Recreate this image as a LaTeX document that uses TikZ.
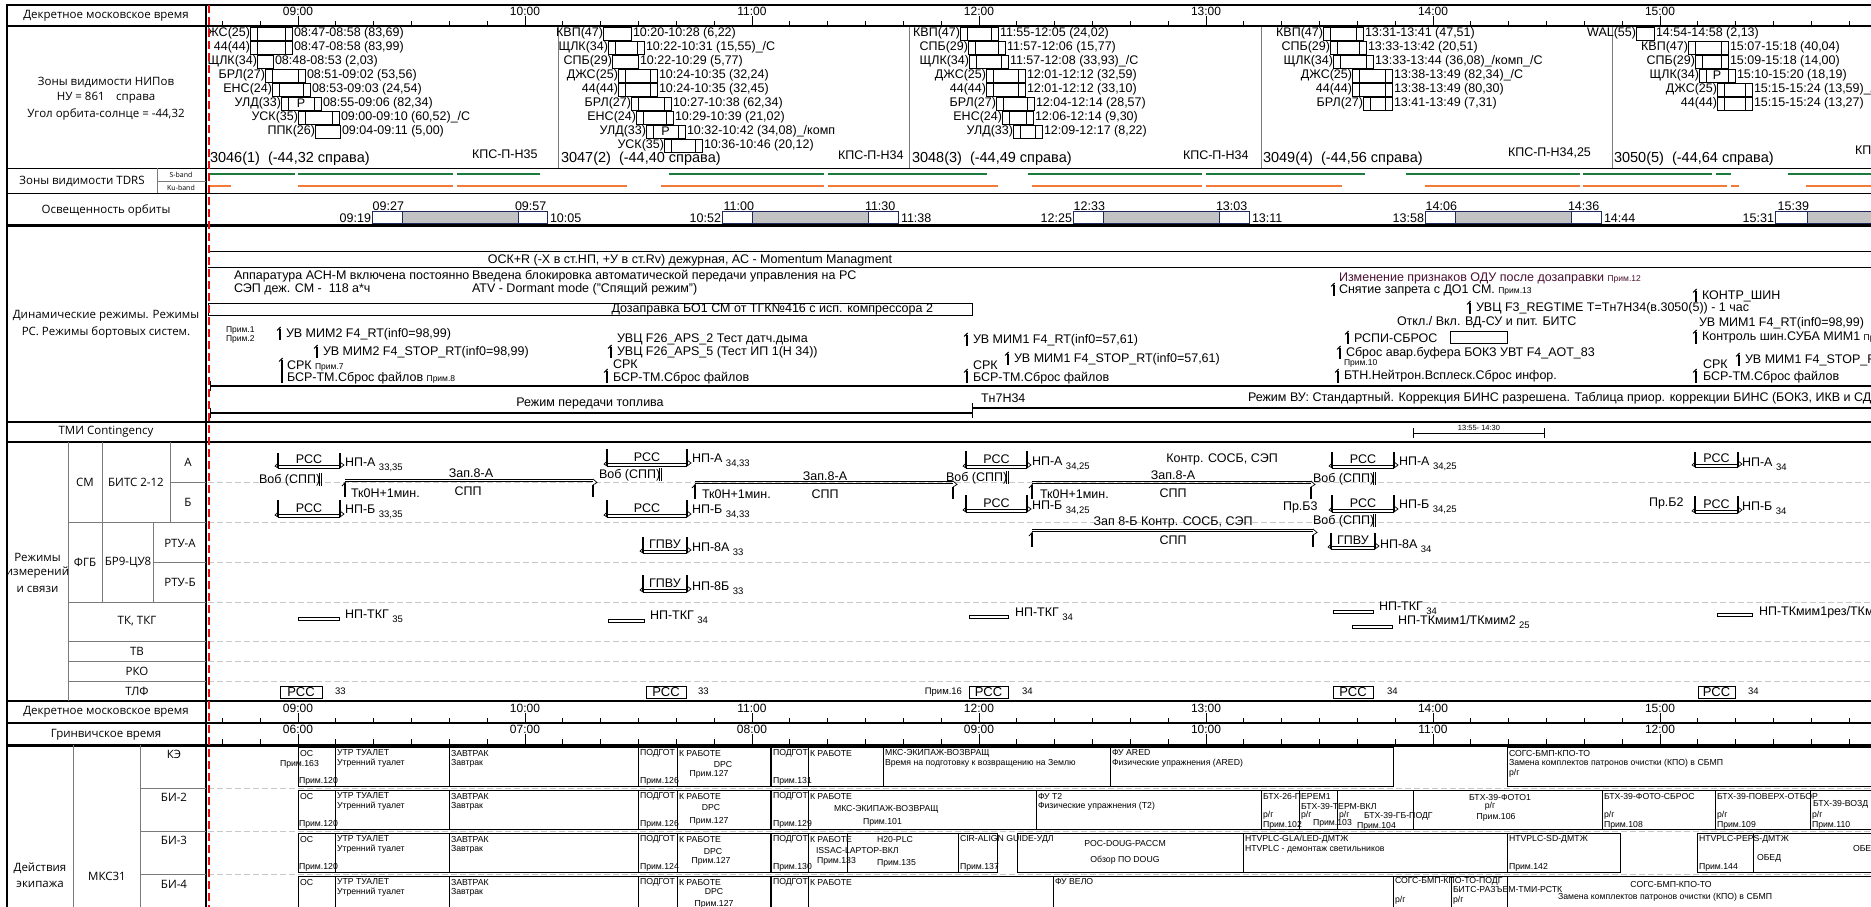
\documentclass[tikz,border=0pt]{standalone}
\usepackage{fontspec}
\setmainfont{Liberation Sans}
\newfontfamily\labfont{Open Sans}
\usetikzlibrary{calc}

\definecolor{sband}{HTML}{1B7A3E}
\definecolor{kuband}{HTML}{F27B3A}
\definecolor{shadowgray}{HTML}{C3C3C3}
\definecolor{navy}{HTML}{1F2A5C}
\definecolor{gridgray}{HTML}{7A7A7A}
\definecolor{dashgray}{HTML}{C8C8C8}
\definecolor{redline}{HTML}{E01010}
\definecolor{darkmaroon}{HTML}{4A1030}

\newcommand\fs[1]{\fontsize{#1}{#1}\selectfont}

% ground station pass: three-part box
\newcommand\nipT[5]{%
  \node[tt,anchor=east] at (#2,#1) {#4};
  \draw[line width=0.8pt] (#2,#1-6.5) rectangle (#3,#1+6.5)
     (#2+7,#1-6.5) -- (#2+7,#1+6.5) (#3-7,#1-6.5) -- (#3-7,#1+6.5);
  \node[tt,anchor=west] at (#3+2,#1) {#5};}
% single box
\newcommand\nipS[5]{%
  \node[tt,anchor=east] at (#2,#1) {#4};
  \draw[line width=0.8pt] (#2,#1-6.5) rectangle (#3,#1+6.5);
  \node[tt,anchor=west] at (#3+2,#1) {#5};}
% box with the "Р" mark
\newcommand\nipP[5]{%
  \nipT{#1}{#2}{#3}{#4}{#5}
  \node[tt] at ({(#2+#3)/2},#1) {Р};}

% shadow interval of the orbit
\newcommand\shd[8]{%
  \fill[shadowgray] (#2,211) rectangle (#3,223);
  \draw[navy,line width=0.9pt] (#1,211) rectangle (#4,223) (#2,211) -- (#2,223) (#3,211) -- (#3,223);
  \node[tt,anchor=east] at (#1-1,218.5) {#5};
  \node[tt,anchor=east] at (#2+2,206.5) {#6};
  \node[tt,anchor=west] at (#3-3,206.5) {#7};
  \node[tt,anchor=west] at (#4+3,218.5) {#8};}

% command flag
\newcommand\flg[3]{%
  \draw[line width=1.8pt] (#1,#2+1.5) -- (#1,#3);
  \draw[line width=1pt] (#1+0.6,#2) -- (#1-3,#2+3.5);}

% communication session bracket
\newcommand\rss[5]{%
  \draw[line width=1.6pt] (#1,#3) -- (#1,#4) (#2,#3) -- (#2,#4);
  \draw[line width=0.7pt] (#1,#4-5) -- (#1-3,#4-2) -- (#1,#4);
  \draw[line width=0.7pt] (#2,#4-6) -- (#2+4,#4-3) -- (#2,#4);
  \draw[line width=0.7pt] (#1,#4-2.5) -- (#2,#4-2.5) (#1,#4) -- (#2,#4);
  \node[font=\fs{12.5}] at ({(#1+#2)/2},#4-9) {#5};}

\newcommand\np[4]{\node[tt,anchor=west] at (#1,#2) {#3 \raisebox{-4.5pt}{\fs{9.5}#4}};}

\newcommand\vob[3]{%
  \node[tt,anchor=west] at (#1,#2) {Воб (СПП)};
  \draw[line width=0.6pt] (#3,#2-7) -- (#3,#2+6) (#3+2.2,#2-7) -- (#3+2.2,#2+6);}

% recording interval
\newcommand\zap[4]{%
  \draw[line width=0.8pt] (#1,#3) -- (#2,#3) (#1,#3+2.5) -- (#2,#3+2.5);
  \draw[line width=1.8pt] (#1,#3+4) -- (#1,#3+#4);
  \draw[line width=0.8pt] (#1+0.6,#3+3) -- (#1-3,#3+7);
  \draw[line width=0.7pt] (#2,#3) -- (#2+4,#3+3.5) -- (#2,#3+6);
  \draw[line width=1.8pt] (#2,#3+6) -- (#2,#3+#4);}

\newcommand\tkg[3]{\draw[line width=0.7pt] (#1,#3-1.6) rectangle (#2,#3+1.6);}

\newcommand\tlf[4]{%
  \draw[line width=1pt] (#1,686) rectangle (#2,698);
  \node[font=\fs{13}] at ({(#1+#2)/2},692.3) {РСС};
  \node[font=\fs{9.5},anchor=west] at (#4,691) {#3};}

% crew activity box and texts
\newcommand\cbx[4]{\draw[cb] (#1,#3) rectangle (#2,#4);}
\newcommand\ct[3]{\node[crew] at (#1,#2) {#3};}
\newcommand\cc[3]{\node[crew,anchor=center] at (#1,#2) {#3};}

\begin{document}
\begin{tikzpicture}[x=1pt,y=-1pt,
  every node/.style={inner sep=0pt,outer sep=0pt},
  tt/.style={font=\fs{12.5}},
  lab/.style={font=\labfont\fs{11.5},align=center},
  sm/.style={font=\fs{8.5}},
  crew/.style={font=\fs{8.7},anchor=west},
  cb/.style={draw=black,line width=0.9pt},
  grid/.style={draw=gridgray,line width=0.9pt},
  rowdash/.style={draw=dashgray,line width=0.8pt,dash pattern=on 6pt off 3pt},
  tick/.style={line width=0.9pt}]
\useasboundingbox (0,0) rectangle (1871,907);
\fill[white] (0,0) rectangle (1871,907);

\begin{scope}
\clip (208,0) rectangle (1871,907);

% ---------- time scales ----------
\foreach \k in {-2,...,41} {
  \pgfmathsetmacro\xx{298+\k*37.833}
  \draw[tick] (\xx,21) -- (\xx,26);
  \draw[tick] (\xx,718) -- (\xx,723);
  \draw[tick] (\xx,739) -- (\xx,745);
}
\foreach \h/\m/\g in {0/09:00/06:00,1/10:00/07:00,2/11:00/08:00,3/12:00/09:00,4/13:00/10:00,5/14:00/11:00,6/15:00/12:00} {
  \pgfmathsetmacro\xx{298+\h*227}
  \draw[tick] (\xx,16) -- (\xx,26);
  \draw[tick] (\xx,713) -- (\xx,723);
  \draw[tick] (\xx,734) -- (\xx,745);
  \node[font=\fs{12}] at (\xx,11) {\m};
  \node[font=\fs{12}] at (\xx,708) {\m};
  \node[font=\fs{12}] at (\xx,729) {\g};
}

% ---------- ground station passes ----------
\foreach \xs in {558,909,1261,1612} \draw[gridgray,line width=0.8pt] (\xs,26) -- (\xs,168);

\nipT{33.5}{250}{292}{ДЖС(25)}{08:47-08:58 (83,69)}
\nipT{47.5}{250}{292}{44(44)}{08:47-08:58 (83,99)}
\nipS{61.5}{257}{273}{ЩЛК(34)}{08:48-08:53 (2,03)}
\nipT{75.5}{265}{305}{БРЛ(27)}{08:51-09:02 (53,56)}
\nipT{89.5}{272}{310}{ЕНС(24)}{08:53-09:03 (24,54)}
\nipP{103.5}{281}{321}{УЛД(33)}{08:55-09:06 (82,34)}
\nipT{117.5}{298}{339}{УСК(35)}{09:00-09:10 (60,52)\_/С}
\nipS{131.5}{315}{340}{ППК(26)}{09:04-09:11 (5,00)}
\node[font=\fs{14.5},anchor=west] at (210,159) {3046(1)\ \ (-44,32 справа)};
\node[tt,anchor=west] at (472,154) {КПС-П-Н35};

\nipS{33.5}{603}{631}{КВП(47)}{10:20-10:28 (6,22)}
\nipT{47.5}{608}{644}{ЩЛК(34)}{10:22-10:31 (15,55)\_/С}
\nipS{61.5}{612}{638}{СПБ(29)}{10:22-10:29 (5,77)}
\nipT{75.5}{618}{657}{ДЖС(25)}{10:24-10:35 (32,24)}
\nipT{89.5}{618}{657}{44(44)}{10:24-10:35 (32,45)}
\nipT{103.5}{631}{671}{БРЛ(27)}{10:27-10:38 (62,34)}
\nipT{117.5}{636}{673}{ЕНС(24)}{10:29-10:39 (21,02)}
\nipP{131.5}{646}{685}{УЛД(33)}{10:32-10:42 (34,08)\_/комп}
\nipT{145.5}{664}{702}{УСК(35)}{10:36-10:46 (20,12)}
\node[font=\fs{14.5},anchor=west] at (561,159) {3047(2)\ \ (-44,40 справа)};
\node[tt,anchor=west] at (838,155) {КПС-П-Н34};

\nipT{33.5}{960}{998}{КВП(47)}{11:55-12:05 (24,02)}
\nipT{47.5}{968}{1005}{СПБ(29)}{11:57-12:06 (15,77)}
\nipT{61.5}{969}{1008}{ЩЛК(34)}{11:57-12:08 (33,93)\_/С}
\nipT{75.5}{986}{1025}{ДЖС(25)}{12:01-12:12 (32,59)}
\nipT{89.5}{986}{1025}{44(44)}{12:01-12:12 (33,10)}
\nipT{103.5}{996}{1034}{БРЛ(27)}{12:04-12:14 (28,57)}
\nipT{117.5}{1002}{1033}{ЕНС(24)}{12:06-12:14 (9,30)}
\nipT{131.5}{1013}{1042}{УЛД(33)}{12:09-12:17 (8,22)}
\node[font=\fs{14.5},anchor=west] at (912,159) {3048(3)\ \ (-44,49 справа)};
\node[tt,anchor=west] at (1183,155) {КПС-П-Н34};

\nipT{33.5}{1323}{1363}{КВП(47)}{13:31-13:41 (47,51)}
\nipT{47.5}{1330}{1366}{СПБ(29)}{13:33-13:42 (20,51)}
\nipT{61.5}{1333}{1373}{ЩЛК(34)}{13:33-13:44 (36,08)\_/комп\_/С}
\nipT{75.5}{1352}{1392}{ДЖС(25)}{13:38-13:49 (82,34)\_/С}
\nipT{89.5}{1352}{1392}{44(44)}{13:38-13:49 (80,30)}
\nipT{103.5}{1363}{1392}{БРЛ(27)}{13:41-13:49 (7,31)}
\node[font=\fs{14.5},anchor=west] at (1263,159) {3049(4)\ \ (-44,56 справа)};
\node[tt,anchor=west] at (1508,153) {КПС-П-Н34,25};

\nipS{33.5}{1636}{1654}{WAL(55)}{14:54-14:58 (2,13)}
\nipT{47.5}{1688}{1728}{КВП(47)}{15:07-15:18 (40,04)}
\nipT{61.5}{1695}{1728}{СПБ(29)}{15:09-15:18 (14,00)}
\nipP{75.5}{1699}{1735}{ЩЛК(34)}{15:10-15:20 (18,19)}
\nipT{89.5}{1717}{1752}{ДЖС(25)}{15:15-15:24 (13,59)\_/С}
\nipT{103.5}{1717}{1752}{44(44)}{15:15-15:24 (13,27)}
\node[font=\fs{14.5},anchor=west] at (1614,159) {3050(5)\ \ (-44,64 справа)};
\node[tt,anchor=west] at (1855,150) {КПС-П-Н34};

% ---------- TDRS coverage ----------
\foreach \a/\b in {208/295,298/453,457/540,669/824,828/987,1028/1202,1206/1365,1406/1580,1583/1712,1716/1731,1788/1871}
  \draw[sband,line width=2.2pt] (\a,174) -- (\b,174);
\foreach \a/\b in {208/231,298/453,457/627,661/824,828/998,1032/1202,1206/1342,1425/1580,1583/1727,1731/1739,1806/1871}
  \draw[kuband,line width=2.2pt] (\a,186) -- (\b,186);

% ---------- orbit illumination ----------
\shd{372}{402}{518}{547}{09:19}{09:27}{09:57}{10:05}
\shd{722}{752}{868}{898}{10:52}{11:00}{11:30}{11:38}
\shd{1073}{1103}{1219}{1249}{12:25}{12:33}{13:03}{13:11}
\shd{1425}{1455}{1571}{1601}{13:58}{14:06}{14:36}{14:44}
\shd{1775}{1807}{1900}{1930}{15:31}{15:39}{}{}

% ---------- dynamic modes ----------
\draw[line width=0.9pt] (208,251) -- (1871,251) (208,267) -- (1871,267);
\node[tt] at (690,260) {ОСК+R (-X в ст.НП, +У в ст.Rv) дежурная, АС - Momentum Managment};
\node[tt,anchor=west] at (234,276) {Аппаратура АСН-М включена постоянно};
\node[tt,anchor=west] at (234,289) {СЭП деж. СМ -\ \ 118 а*ч};
\node[tt,anchor=west] at (472,276) {Введена блокировка автоматической передачи управления на РС};
\node[tt,anchor=west] at (472,289) {ATV - Dormant mode ("Спящий режим")};
\draw[line width=0.9pt] (208,303) rectangle (972,315);
\node[tt,anchor=east] at (933,309) {Дозаправка БО1 СМ от ТГК№416 с исп. компрессора 2};

\node[tt,anchor=west,text=darkmaroon] at (1339,278) {Изменение признаков ОДУ после дозаправки {\fs{8.5}Прим.12}};
\flg{1334}{283}{296}
\node[tt,anchor=west] at (1339,290) {Снятие запрета с ДО1 СМ. {\fs{8.5}Прим.13}};
\flg{1696}{289}{302}
\node[tt,anchor=west] at (1702,296) {КОНТР\_ШИН};
\flg{1470}{301}{314}
\node[tt,anchor=west] at (1476,308) {УВЦ F3\_REGTIME T=Тн7Н34(в.3050(5)) - 1 час};
\node[tt,anchor=west] at (1397,322) {Откл./ Вкл. ВД-СУ и пит. БИТС};
\flg{1348}{331}{344}
\node[tt,anchor=west] at (1354,338) {РСПИ-СБРОС};
\draw[line width=0.9pt] (1450,331) rectangle (1507,343);
\flg{1340}{346}{359}
\node[tt,anchor=west] at (1346,353) {Сброс авар.буфера БОКЗ УВТ F4\_AOT\_83};
\node[sm,anchor=west] at (1344,363) {Прим.10};
\flg{1338}{369}{383}
\node[tt,anchor=west] at (1344,376) {БТН.Нейтрон.Всплеск.Сброс инфор.};

\node[tt,anchor=west] at (1699,323) {УВ МИМ1 F4\_RT(inf0=98,99)};
\flg{1696}{330}{344}
\node[tt,anchor=west] at (1702,337) {Контроль шин.СУБА МИМ1 {\fs{8.5}Прим.}};
\flg{1739}{353}{366}
\node[tt,anchor=west] at (1745,360) {УВ МИМ1 F4\_STOP\_RT(inf0=98,99)};
\node[tt,anchor=west] at (1703,364) {СРК};
\flg{1696}{369}{383}
\node[tt,anchor=west] at (1703,377) {БСР-ТМ.Сброс файлов};

\node[sm,anchor=west] at (226,330) {Прим.1};
\node[sm,anchor=west] at (226,339) {Прим.2};
\flg{280}{327}{340}
\node[tt,anchor=west] at (286,334) {УВ МИМ2 F4\_RT(inf0=98,99)};
\flg{317}{345}{358}
\node[tt,anchor=west] at (323,352) {УВ МИМ2 F4\_STOP\_RT(inf0=98,99)};
\flg{282}{358}{383}
\node[tt,anchor=west] at (287,366) {СРК {\fs{8.5}Прим.7}};
\node[tt,anchor=west] at (287,378) {БСР-ТМ.Сброс файлов {\fs{8.5}Прим.8}};

\node[tt,anchor=west] at (617,339) {УВЦ F26\_APS\_2 Тест датч.дыма};
\flg{611}{345}{358}
\node[tt,anchor=west] at (617,352) {УВЦ F26\_APS\_5 (Тест ИП 1(Н 34))};
\node[tt,anchor=west] at (613,364) {СРК};
\flg{607}{369}{383}
\node[tt,anchor=west] at (613,378) {БСР-ТМ.Сброс файлов};

\flg{967}{333}{346}
\node[tt,anchor=west] at (973,340) {УВ МИМ1 F4\_RT(inf0=57,61)};
\flg{1008}{352}{365}
\node[tt,anchor=west] at (1014,359) {УВ МИМ1 F4\_STOP\_RT(inf0=57,61)};
\node[tt,anchor=west] at (973,365) {СРК};
\flg{967}{369}{383}
\node[tt,anchor=west] at (973,378) {БСР-ТМ.Сброс файлов};

\draw[line width=2pt] (210,386) -- (1871,386);
\draw[line width=1pt] (210,381) -- (210,391);
\node[tt] at (590,403) {Режим передачи топлива};
\draw[line width=2pt] (210,413) -- (972,413);
\draw[line width=1pt] (210,408) -- (210,418) (972,403) -- (972,418);
\draw[line width=2pt] (972,408) -- (1871,408);
\node[tt,anchor=west] at (981,398) {Тн7Н34};
\node[tt,anchor=west] at (1248,398) {Режим ВУ: Стандартный. Коррекция БИНС разрешена. Таблица приор. коррекции БИНС (БОКЗ, ИКВ и СД, Аме};

% ---------- TMI contingency ----------
\draw[line width=0.9pt] (1413,433) -- (1544,433) (1413,428) -- (1413,438) (1544,428) -- (1544,438);
\node[font=\fs{7.5}] at (1479,427.5) {13:55- 14:30};

% ---------- measurement and comm modes ----------
\foreach \yy in {482,522,562,602,641,661,681,788,831,874} \draw[rowdash] (208,\yy) -- (1871,\yy);

\rss{278}{340}{453}{468}{РСС}  \np{345}{465}{НП-А}{33,35}
\rss{278}{340}{500}{517}{РСС}  \np{345}{512}{НП-Б}{33,35}
\vob{259}{480}{319}
\zap{345}{593}{479}{18}
\node[tt] at (471,473) {Зап.8-А};
\node[tt] at (468,491) {СПП};
\node[tt,anchor=west] at (351,493) {Тк0Н+1мин.};

\rss{607}{687}{449}{466}{РСС}  \np{692}{461}{НП-А}{34,33}
\rss{607}{687}{500}{517}{РСС}  \np{692}{512}{НП-Б}{34,33}
\vob{599}{475}{659}
\zap{695}{953}{481}{18}
\node[tt] at (825,476) {Зап.8-А};
\node[tt] at (825,494) {СПП};
\node[tt,anchor=west] at (702,494) {Тк0Н+1мин.};
\rss{643}{687}{537}{553}{ГПВУ}  \np{692}{549}{НП-8А}{33}
\rss{643}{687}{575}{592}{ГПВУ}  \np{692}{588}{НП-8Б}{33}

\rss{966}{1027}{451}{468}{РСС}  \np{1032}{464}{НП-А}{34,25}
\rss{966}{1027}{495}{512}{РСС}  \np{1032}{508}{НП-Б}{34,25}
\vob{946}{478}{1006}
\node[tt] at (1222,459) {Контр. СОСБ, СЭП};
\zap{1032}{1311}{481}{18}
\node[tt] at (1173,475) {Зап.8-А};
\node[tt] at (1173,493) {СПП};
\node[tt,anchor=west] at (1040,494) {Тк0Н+1мин.};
\node[tt,anchor=west] at (1283,507) {Пр.Б3};
\node[tt] at (1173,522) {Зап 8-Б Контр. СОСБ, СЭП};
\zap{1032}{1313}{529}{18}
\node[tt] at (1173,540) {СПП};

\rss{1332}{1394}{452}{468}{РСС}  \np{1399}{464}{НП-А}{34,25}
\rss{1332}{1394}{495}{512}{РСС}  \np{1399}{507}{НП-Б}{34,25}
\vob{1313}{479}{1373}
\vob{1313}{521}{1373}
\rss{1331}{1375}{533}{549}{ГПВУ}  \np{1380}{546}{НП-8А}{34}

\rss{1695}{1738}{452}{467}{РСС}  \np{1742}{464}{НП-А}{34}
\rss{1695}{1738}{496}{513}{РСС}  \np{1742}{508}{НП-Б}{34}
\node[tt,anchor=west] at (1649,503) {Пр.Б2};

\tkg{298}{339}{619}   \np{345}{616}{НП-ТКГ}{35}
\tkg{608}{644}{621}   \np{650}{617}{НП-ТКГ}{34}
\tkg{969}{1008}{617}  \np{1015}{614}{НП-ТКГ}{34}
\tkg{1333}{1373}{612} \np{1379}{608}{НП-ТКГ}{34}
\tkg{1352}{1392}{627} \np{1398}{622}{НП-ТКмим1/ТКмим2}{25}
\tkg{1717}{1752}{615} \node[tt,anchor=west] at (1759,612) {НП-ТКмим1рез/ТКмим2рез};

\tlf{280}{322}{33}{335}
\tlf{646}{686}{33}{698}
\node[font=\fs{9.5},anchor=east] at (962,692) {Прим.16};
\tlf{969}{1008}{34}{1022}
\tlf{1333}{1373}{34}{1387}
\tlf{1698}{1735}{34}{1748}

% ---------- crew activities ----------
\foreach \ya/\yb in {747/786,790/829,833/872,876/915} {
  \cbx{298}{335}{\ya}{\yb} \cbx{335}{449}{\ya}{\yb} \cbx{449}{638}{\ya}{\yb}
  \cbx{638}{677}{\ya}{\yb} \cbx{677}{770}{\ya}{\yb} \cbx{771}{808}{\ya}{\yb}
  \ct{300}{\ya+6}{ОС}
  \ct{337}{\ya+6}{УТР ТУАЛЕТ} \ct{337}{\ya+16}{Утренний туалет}
  \ct{451}{\ya+6}{ЗАВТРАК} \ct{451}{\ya+16}{Завтрак}
  \ct{640}{\ya+6}{ПОДГОТ} \ct{679}{\ya+6}{К РАБОТЕ} \ct{773}{\ya+6}{ПОДГОТ}
}
% KE
\ct{280}{764}{Прим.163} \ct{299}{781}{Прим.120} \ct{640}{781}{Прим.126}
\cc{723}{764}{DPC} \cc{709}{774}{Прим.127} \ct{773}{781}{Прим.131}
\cbx{808}{883}{747}{786} \ct{810}{753}{К РАБОТЕ}
\cbx{883}{1110}{747}{786} \ct{885}{753}{МКС-ЭКИПАЖ-ВОЗВРАЩ} \ct{885}{763}{Время на подготовку к возвращению на Землю}
\cbx{1110}{1393}{747}{786} \ct{1112}{753}{ФУ ARED} \ct{1112}{763}{Физические упражнения (ARED)}
\cbx{1507}{1900}{747}{786} \ct{1509}{753}{СОГС-БМП-КПО-ТО} \ct{1509}{763}{Замена комплектов патронов очистки (КПО) в СБМП} \ct{1509}{773}{р/г}
% BI-2
\ct{299}{824}{Прим.120} \ct{640}{824}{Прим.126}
\cc{711}{807}{DPC} \cc{709}{821}{Прим.127} \ct{773}{824}{Прим.129}
\cbx{808}{1036}{790}{829} \ct{810}{796}{К РАБОТЕ}
\ct{834}{809}{МКС-ЭКИПАЖ-ВОЗВРАЩ} \ct{863}{822}{Прим.101}
\cbx{1036}{1261}{790}{829} \ct{1038}{796}{ФУ Т2} \ct{1038}{806}{Физические упражнения (Т2)}
\cbx{1261}{1299}{790}{829} \ct{1263}{796}{БТХ-26-ПЕРЕМ1} \ct{1263}{815}{р/г} \ct{1263}{825}{Прим.102}
\cbx{1299}{1337}{790}{829} \ct{1301}{806}{БТХ-39-ТЕРМ-ВКЛ} \ct{1301}{815}{р/г} \ct{1313}{823}{Прим.103}
\cbx{1337}{1413}{790}{829} \ct{1339}{815}{р/г} \ct{1364}{816}{БТХ-39-ГБ-ПОДГ} \ct{1357}{826}{Прим.104}
\cbx{1413}{1602}{790}{829} \cc{1500}{797}{БТХ-39-ФОТО1} \cc{1490}{806}{р/г} \cc{1496}{817}{Прим.106}
\cbx{1602}{1715}{790}{829} \ct{1604}{796}{БТХ-39-ФОТО-СБРОС} \ct{1604}{815}{р/г} \ct{1604}{825}{Прим.108}
\cbx{1715}{1810}{790}{829} \ct{1717}{796}{БТХ-39-ПОВЕРХ-ОТБОР} \ct{1717}{815}{р/г} \ct{1717}{825}{Прим.109}
\cbx{1810}{1900}{790}{829} \ct{1813}{804}{БТХ-39-ВОЗД} \ct{1812}{815}{р/г} \ct{1812}{825}{Прим.110}
% BI-3
\ct{299}{867}{Прим.120} \ct{640}{867}{Прим.124}
\cc{713}{851}{DPC} \cc{711}{861}{Прим.127} \ct{773}{867}{Прим.130}
\cbx{808}{847}{833}{872} \ct{810}{839}{К РАБОТЕ} \ct{816}{850}{ISSAC-LAPTOP-ВКЛ} \ct{817}{861}{Прим.133}
\cbx{847}{958}{833}{872} \cc{895}{839}{H20-PLC} \ct{877}{863}{Прим.135}
\cbx{958}{997}{833}{872} \ct{960}{839}{CIR-ALIGN GUIDE-УДЛ} \ct{960}{867}{Прим.137}
\cbx{1017}{1243}{833}{872} \cc{1125}{843}{POC-DOUG-PACCM} \cc{1125}{860}{Обзор ПО DOUG}
\cbx{1243}{1507}{833}{872} \ct{1245}{839}{HTVPLC-GLA/LED-ДМТЖ} \ct{1245}{849}{HTVPLC - демонтаж светильников}
\cbx{1507}{1620}{833}{872} \ct{1509}{839}{HTVPLC-SD-ДМТЖ} \ct{1509}{867}{Прим.142}
\cbx{1697}{1753}{833}{872} \ct{1699}{839}{HTVPLC-PEPS-ДМТЖ} \ct{1699}{867}{Прим.144}
\cbx{1753}{1900}{833}{872} \ct{1757}{858}{ОБЕД} \ct{1853}{849}{ОБЕД}
% BI-4
\cc{714}{891}{DPC} \cc{714}{904}{Прим.127}
\cbx{808}{1053}{876}{915} \ct{810}{882}{К РАБОТЕ}
\cbx{1053}{1393}{876}{915} \ct{1055}{881}{ФУ ВЕЛО}
\cbx{1393}{1451}{876}{915} \ct{1395}{881}{СОГС-БМП-КПО-ТО-ПОДГ} \ct{1395}{900}{р/г}
\cbx{1451}{1507}{876}{915} \ct{1453}{889}{БИТС-РАЗЪЕМ-ТМИ-РСТК} \ct{1453}{900}{р/г}
\cbx{1507}{1900}{876}{915} \cc{1671}{884}{СОГС-БМП-КПО-ТО} \ct{1558}{897}{Замена комплектов патронов очистки (КПО) в СБМП}
\end{scope}

% ---------- frame ----------
\draw[line width=1.2pt] (7,5) -- (1871,5);
\draw[line width=2pt] (7,26) -- (1871,26);
\draw[line width=1pt] (7,168) -- (1871,168);
\draw[line width=1pt] (7,193) -- (1871,193);
\draw[line width=3pt] (7,225) -- (1871,225);
\draw[line width=2.5pt] (7,422) -- (1871,422);
\draw[line width=2.5pt] (7,442) -- (1871,442);
\draw[line width=2.5pt] (7,701) -- (1871,701);
\draw[line width=1.2pt] (7,723) -- (1871,723);
\draw[line width=3pt] (7,745) -- (1871,745);
\draw[line width=2pt] (7,4) -- (7,907);
\draw[line width=2.5pt] (206,4) -- (206,907);

% label grid
\draw[grid] (157,168) -- (157,193) (157,181) -- (206,181);
\draw[grid] (68,442) -- (68,701) (102,442) -- (102,602) (170,442) -- (170,522) (170,482) -- (206,482)
  (68,522) -- (206,522) (153,522) -- (153,602) (153,562) -- (206,562) (68,602) -- (206,602)
  (68,641) -- (206,641) (68,661) -- (206,661) (68,681) -- (206,681);
\draw[grid] (73,745) -- (73,907) (140,745) -- (140,907) (140,788) -- (206,788) (140,831) -- (206,831) (140,874) -- (206,874);

% labels
\node[lab] at (106,16) {Декретное московское время};
\node[lab] at (106,82) {Зоны видимости НИПов};
\node[lab] at (106,98) {НУ = 861\quad справа};
\node[lab] at (106,114) {Угол орбита-солнце = -44,32};
\node[lab] at (82,181) {Зоны видимости TDRS};
\node[font=\labfont\fs{7}] at (181,175) {S-band};
\node[font=\labfont\fs{7}] at (181,187.5) {Ku-band};
\node[lab] at (106,210) {Освещенность орбиты};
\node[lab] at (106,316) {Динамические режимы. Режимы};
\node[lab] at (106,332) {РС. Режимы бортовых систем.};
\node[lab] at (106,432) {ТМИ Contingency};
\node[lab] at (37.5,557) {Режимы};
\node[lab] at (37.5,573) {измерений};
\node[lab] at (37.5,589) {и связи};
\node[lab] at (85,482) {СМ};
\node[lab] at (136,482) {БИТС 2-12};
\node[lab] at (188,462) {А};
\node[lab] at (188,502) {Б};
\node[lab] at (85,562) {ФГБ};
\node[lab] at (128,562) {БР9-ЦУ8};
\node[lab] at (180,543) {РТУ-А};
\node[lab] at (180,582) {РТУ-Б};
\node[lab] at (137,621) {ТК, ТКГ};
\node[lab] at (137,651) {ТВ};
\node[lab] at (137,671) {РКО};
\node[lab] at (137,691) {ТЛФ};
\node[lab] at (106,712) {Декретное московское время};
\node[lab] at (106,735) {Гринвичское время};
\node[lab] at (40,868) {Действия};
\node[lab] at (40,884) {экипажа};
\node[lab] at (107,876) {МКС31};
\node[lab] at (174,754) {КЭ};
\node[lab] at (174,797) {БИ-2};
\node[lab] at (174,840) {БИ-3};
\node[lab] at (174,884) {БИ-4};

\draw[redline,line width=1.3pt,dash pattern=on 8pt off 4pt] (209,5) -- (209,907);
\end{tikzpicture}
\end{document}
